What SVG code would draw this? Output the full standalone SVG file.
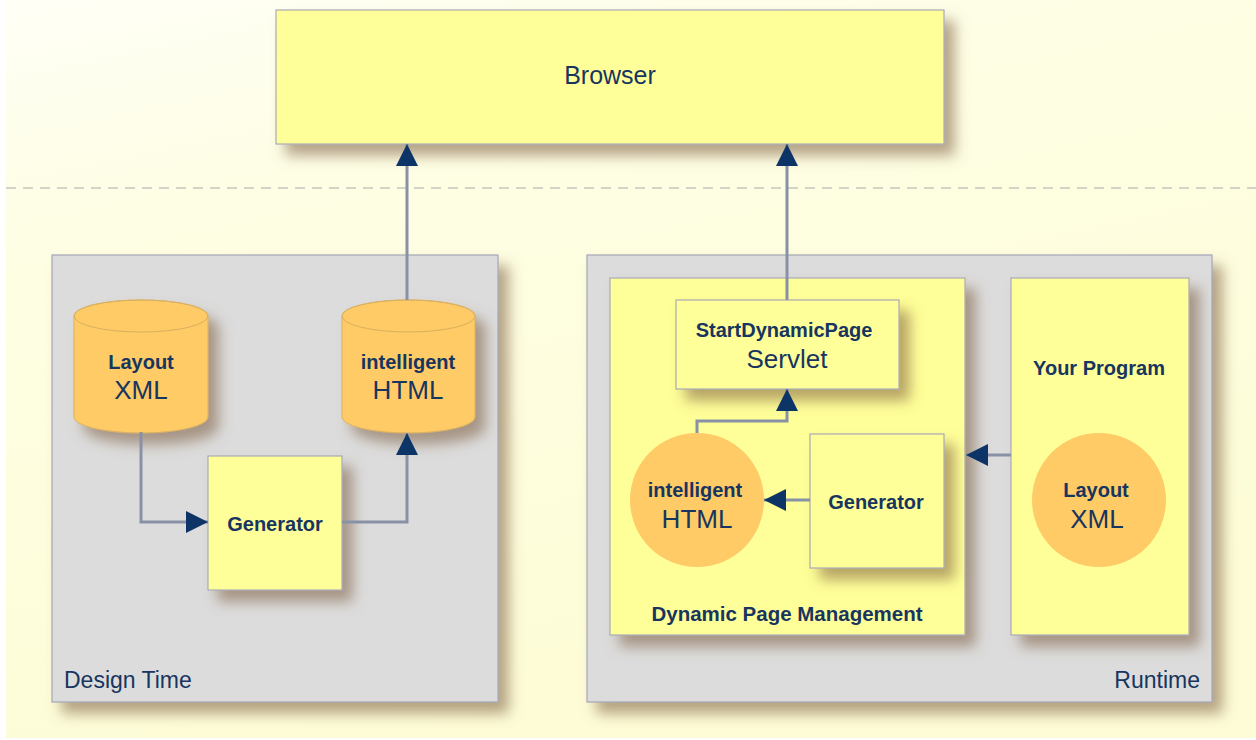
<svg xmlns="http://www.w3.org/2000/svg" width="1256" height="740" viewBox="0 0 1256 740">
  <defs>
    <linearGradient id="bg" x1="0" y1="0" x2="0.35" y2="1">
      <stop offset="0" stop-color="#FFFFF6"/>
      <stop offset="0.3" stop-color="#FEFEE4"/>
      <stop offset="1" stop-color="#FDFCD6"/>
    </linearGradient>
    <filter id="sh" x="-20%" y="-20%" width="150%" height="150%">
      <feDropShadow dx="10" dy="11" stdDeviation="7" flood-color="#7A5A3A" flood-opacity="0.55"/>
    </filter>
    <marker id="ah" viewBox="0 0 22 22" markerWidth="22" markerHeight="22" markerUnits="userSpaceOnUse" refX="22" refY="11" orient="auto">
      <path d="M0,0 L22,11 L0,22 Z" fill="#0D3466"/>
    </marker>
    <style>
      .box { fill: #FFFF99; stroke: #A9AAB4; stroke-width: 1.2; }
      .panel { fill: #DCDCDC; stroke: #A4A6B4; stroke-width: 1.2; }
      .orange { fill: #FECB66; }
      .cyl { fill: #FECB66; stroke: #D9B060; stroke-width: 1; }
      .t { font-family: "Liberation Sans", Arial, sans-serif; fill: #17355F; text-anchor: middle; }
      .sb { font-size: 20px; font-weight: bold; }
      .lg { font-size: 26px; }
      .lbl { font-size: 23px; }
      .conn { fill: none; stroke: #8891A6; stroke-width: 3; }
    </style>
  </defs>

  <rect x="0" y="0" width="1256" height="740" fill="#FFFFFF"/>
  <rect x="6" y="0" width="1250" height="738" fill="url(#bg)"/>
  <line x1="6" y1="188" x2="1256" y2="188" stroke="#C6C6BC" stroke-width="1.5" stroke-dasharray="10,7"/>

  <g id="browser">
    <rect class="box" x="276" y="10" width="668" height="134" filter="url(#sh)"/>
    <text class="t" x="610" y="84" font-size="25">Browser</text>
  </g>

  <g id="design-time">
    <rect class="panel" x="52" y="255" width="446" height="447" filter="url(#sh)"/>
    <text class="t lbl" x="64" y="688" style="text-anchor:start">Design Time</text>
  </g>

  <g id="runtime">
    <rect class="panel" x="587" y="255" width="625" height="447" filter="url(#sh)"/>
    <text class="t lbl" x="1200" y="688" style="text-anchor:end">Runtime</text>
  </g>

  <g id="dynamic-page-management">
    <rect class="box" x="610" y="278" width="355" height="357" filter="url(#sh)"/>
    <text class="t" x="787" y="621" font-size="20.5" font-weight="bold">Dynamic Page Management</text>
  </g>

  <g id="your-program">
    <rect class="box" x="1011" y="278" width="178" height="357" filter="url(#sh)"/>
    <text class="t sb" x="1099" y="375">Your Program</text>
  </g>

  <g id="layout-xml-db">
    <g filter="url(#sh)">
      <path class="cyl" d="M74,316 A67,16 0 0 1 208,316 L208,417 A67,16 0 0 1 74,417 Z"/>
      <ellipse cx="141" cy="316" rx="67" ry="16" fill="none" stroke="#D9B060" stroke-width="1"/>
    </g>
    <text class="t sb" x="141" y="369">Layout</text>
    <text class="t lg" x="141" y="399">XML</text>
  </g>

  <g id="intelligent-html-db">
    <g filter="url(#sh)">
      <path class="cyl" d="M342,316 A66.5,16 0 0 1 475,316 L475,417 A66.5,16 0 0 1 342,417 Z"/>
      <ellipse cx="408.5" cy="316" rx="66.5" ry="16" fill="none" stroke="#D9B060" stroke-width="1"/>
    </g>
    <text class="t sb" x="408" y="369">intelligent</text>
    <text class="t lg" x="408" y="399">HTML</text>
  </g>

  <g id="generator-design">
    <rect class="box" x="208" y="456" width="134" height="134" filter="url(#sh)"/>
    <text class="t sb" x="275" y="531">Generator</text>
  </g>

  <g id="servlet">
    <rect class="box" x="676" y="300" width="223" height="89" filter="url(#sh)"/>
    <text class="t sb" x="784" y="337">StartDynamicPage</text>
    <text class="t lg" x="787" y="368">Servlet</text>
  </g>

  <g id="generator-runtime">
    <rect class="box" x="810" y="434" width="134" height="134" filter="url(#sh)"/>
    <text class="t sb" x="876" y="509">Generator</text>
  </g>

  <g id="intelligent-html-circle">
    <circle class="orange" cx="697" cy="500" r="67"/>
    <text class="t sb" x="695" y="497">intelligent</text>
    <text class="t lg" x="697" y="528">HTML</text>
  </g>

  <g id="layout-xml-circle">
    <circle class="orange" cx="1099" cy="500" r="67"/>
    <text class="t sb" x="1096" y="497">Layout</text>
    <text class="t lg" x="1097" y="528">XML</text>
  </g>

  <g id="connectors">
    <path class="conn" d="M407,300 L407,144" marker-end="url(#ah)"/>
    <path class="conn" d="M787,300 L787,144" marker-end="url(#ah)"/>
    <path class="conn" d="M141,432 L141,522 L208,522" marker-end="url(#ah)"/>
    <path class="conn" d="M342,522 L407,522 L407,433" marker-end="url(#ah)"/>
    <path class="conn" d="M697,433 L697,421 L787,421 L787,389" marker-end="url(#ah)"/>
    <path class="conn" d="M810,500 L764,500" marker-end="url(#ah)"/>
    <path class="conn" d="M1011,455 L966,455" marker-end="url(#ah)"/>
  </g>
</svg>
